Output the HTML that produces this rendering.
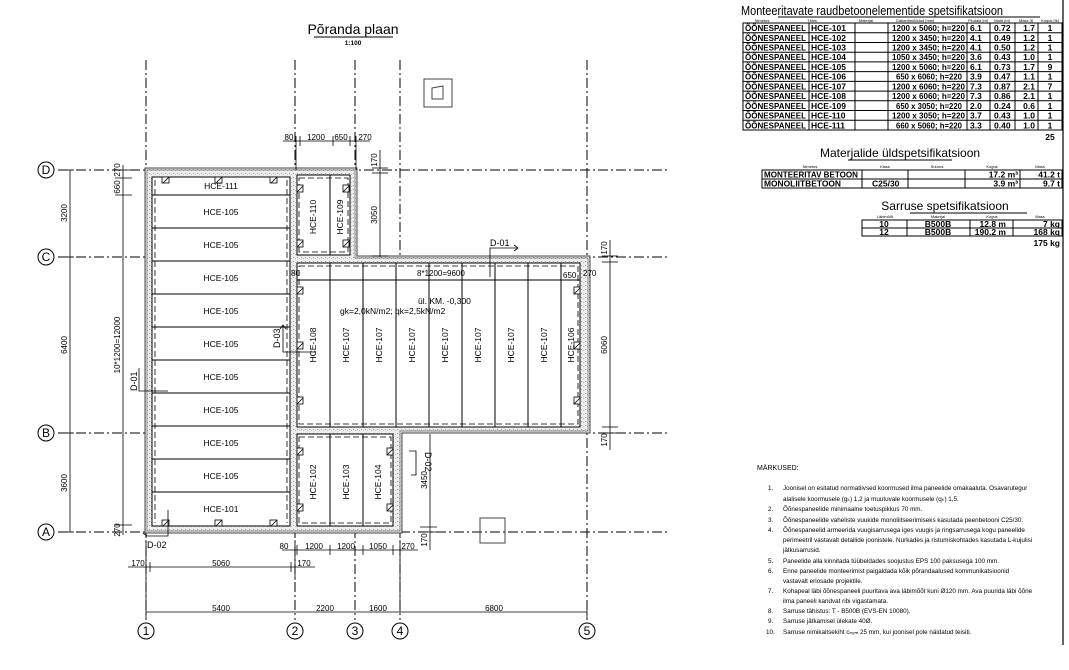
<!DOCTYPE html>
<html><head><meta charset="utf-8"><style>
html,body{margin:0;padding:0;background:#fff}
svg{display:block}
text{font-family:"Liberation Sans",sans-serif;fill:#000}
</style></head><body>
<svg width="1069" height="670" viewBox="0 0 1069 670" xmlns="http://www.w3.org/2000/svg">
<defs>
<pattern id="st" width="4" height="4" patternUnits="userSpaceOnUse">
<rect width="4" height="4" fill="#eee"/><rect x="1" y="1" width="1" height="1" fill="#999"/><rect x="3" y="2" width="1" height="1" fill="#bbb"/>
</pattern>
<g id="ah"><rect x="0" y="0" width="7" height="6" fill="#fff" stroke="#000" stroke-width="0.8"/><line x1="1" y1="6" x2="7" y2="0" stroke="#000" stroke-width="0.8"/></g>
<g id="av"><rect x="0" y="0" width="6" height="7" fill="#fff" stroke="#000" stroke-width="0.8"/><line x1="0" y1="7" x2="6" y2="1" stroke="#000" stroke-width="0.8"/></g>
</defs>

<text x="353" y="34" font-size="14" text-anchor="middle">Põranda plaan</text>
<line x1="314" y1="37" x2="393" y2="37" stroke="#000" stroke-width="1"/>
<text x="353" y="45" font-size="6.5" text-anchor="middle" font-weight="bold">1:100</text>

<g stroke="#000" stroke-width="1" stroke-dasharray="10,3,2,3" fill="none">
<line x1="146" y1="60" x2="146" y2="620"/>
<line x1="295" y1="60" x2="295" y2="620"/>
<line x1="355" y1="60" x2="355" y2="620"/>
<line x1="400" y1="60" x2="400" y2="620"/>
<line x1="587" y1="60" x2="587" y2="620"/>
<line x1="58" y1="170" x2="668" y2="170"/>
<line x1="58" y1="257" x2="668" y2="257"/>
<line x1="58" y1="433" x2="668" y2="433"/>
<line x1="58" y1="532" x2="668" y2="532"/>
</g>

<g fill="#fff" stroke="#000" stroke-width="1">
<circle cx="46" cy="170" r="8"/><circle cx="46" cy="257" r="8"/><circle cx="46" cy="433" r="8"/><circle cx="46" cy="532" r="8"/>
<circle cx="146" cy="631" r="8"/><circle cx="295" cy="631" r="8"/><circle cx="355" cy="631" r="8"/><circle cx="400" cy="631" r="8"/><circle cx="587" cy="631" r="8"/>
</g>
<g font-size="12" text-anchor="middle">
<text x="46" y="174">D</text><text x="46" y="261">C</text><text x="46" y="437">B</text><text x="46" y="536">A</text>
<text x="146" y="635">1</text><text x="295" y="635">2</text><text x="355" y="635">3</text><text x="400" y="635">4</text><text x="587" y="635">5</text>
</g>

<polygon points="145,168 357,168 357,256 590,256 590,433 402,433 402,533 145,533" fill="url(#st)" stroke="#444" stroke-width="1"/>
<polygon points="147,170 355,170 355,258 588,258 588,431 400,431 400,531 147,531" fill="none" stroke="#666" stroke-width="0.7"/>

<g fill="#fff" stroke="#000" stroke-width="1">
<rect x="152" y="177" width="138" height="349"/>
<rect x="297" y="175" width="53" height="80"/>
<rect x="297" y="263" width="283" height="164"/>
<rect x="297" y="434" width="96" height="92"/>
</g>
<g stroke="#000" stroke-width="1">
<line x1="152" y1="195" x2="290" y2="195"/><line x1="152" y1="228" x2="290" y2="228"/><line x1="152" y1="261" x2="290" y2="261"/>
<line x1="152" y1="294" x2="290" y2="294"/><line x1="152" y1="327" x2="290" y2="327"/><line x1="152" y1="360" x2="290" y2="360"/>
<line x1="152" y1="393" x2="290" y2="393"/><line x1="152" y1="426" x2="290" y2="426"/><line x1="152" y1="459" x2="290" y2="459"/>
<line x1="152" y1="492" x2="290" y2="492"/>
<line x1="330" y1="175" x2="330" y2="255"/>
<line x1="330" y1="263" x2="330" y2="427"/><line x1="363" y1="263" x2="363" y2="427"/><line x1="396" y1="263" x2="396" y2="427"/>
<line x1="429" y1="263" x2="429" y2="427"/><line x1="462" y1="263" x2="462" y2="427"/><line x1="495" y1="263" x2="495" y2="427"/>
<line x1="528" y1="263" x2="528" y2="427"/><line x1="561" y1="263" x2="561" y2="427"/>
<line x1="330" y1="434" x2="330" y2="526"/><line x1="363" y1="434" x2="363" y2="526"/>
<line x1="297" y1="280" x2="580" y2="280"/>
</g>
<g stroke="#000" stroke-width="0.8" stroke-dasharray="6,3" fill="none">
<line x1="155" y1="180" x2="155" y2="523"/><line x1="287" y1="180" x2="287" y2="523"/>
<rect x="299" y="178" width="49" height="74"/>
<rect x="299" y="266" width="279" height="158"/>
<rect x="299" y="437" width="92" height="86"/>
</g>

<use href="#ah" x="162" y="177"/><use href="#ah" x="215" y="177"/><use href="#ah" x="270" y="177"/>
<use href="#ah" x="162" y="520"/><use href="#ah" x="215" y="520"/><use href="#ah" x="270" y="520"/>
<use href="#av" x="297" y="185"/><use href="#av" x="343" y="185"/><use href="#av" x="297" y="240"/><use href="#av" x="343" y="240"/>
<use href="#av" x="297" y="287"/><use href="#av" x="297" y="342"/><use href="#av" x="297" y="397"/>
<use href="#av" x="574" y="287"/><use href="#av" x="574" y="342"/><use href="#av" x="574" y="397"/>
<use href="#av" x="297" y="448"/><use href="#av" x="297" y="504"/><use href="#av" x="387" y="448"/><use href="#av" x="387" y="504"/>

<g font-size="8.5" text-anchor="middle">
<text x="221" y="189">HCE-111</text>
<text x="221" y="215">HCE-105</text><text x="221" y="248">HCE-105</text><text x="221" y="281">HCE-105</text>
<text x="221" y="314">HCE-105</text><text x="221" y="347">HCE-105</text><text x="221" y="380">HCE-105</text>
<text x="221" y="413">HCE-105</text><text x="221" y="446">HCE-105</text><text x="221" y="479">HCE-105</text>
<text x="221" y="512">HCE-101</text>
</g>
<g font-size="8.5" text-anchor="middle">
<text transform="translate(316,217) rotate(-90)">HCE-110</text>
<text transform="translate(343,217) rotate(-90)">HCE-109</text>
<text transform="translate(316,345) rotate(-90)">HCE-108</text>
<text transform="translate(349,345) rotate(-90)">HCE-107</text>
<text transform="translate(382,345) rotate(-90)">HCE-107</text>
<text transform="translate(415,345) rotate(-90)">HCE-107</text>
<text transform="translate(448,345) rotate(-90)">HCE-107</text>
<text transform="translate(481,345) rotate(-90)">HCE-107</text>
<text transform="translate(514,345) rotate(-90)">HCE-107</text>
<text transform="translate(547,345) rotate(-90)">HCE-107</text>
<text transform="translate(574,345) rotate(-90)">HCE-106</text>
<text transform="translate(316,482) rotate(-90)">HCE-102</text>
<text transform="translate(349,482) rotate(-90)">HCE-103</text>
<text transform="translate(381,482) rotate(-90)">HCE-104</text>
</g>
<text x="418" y="304" font-size="8.5">ül. KM. -0,300</text>
<text x="340" y="314" font-size="8.5">gk=2,0kN/m2; qk=2,5kN/m2</text>
<text x="417" y="276" font-size="8">8*1200=9600</text>
<text x="291" y="276" font-size="8">80</text>
<text x="563" y="278" font-size="8">650</text>
<text x="583" y="276" font-size="8">270</text>

<g stroke="#000" stroke-width="0.8" fill="none">
<polyline points="490,277 490,248 517,248"/><polyline points="514,245 518,248 514,251"/>
<polyline points="316,352 283,352 283,326"/><polyline points="280,329 283,325 286,329"/>
<polyline points="168,391 139,391 139,368"/>
<polyline points="409,451 416,451 416,475 411,475"/>
<polyline points="168,510 168,536 147,536 143,533"/>
</g>
<text x="490" y="246" font-size="9">D-01</text>
<text transform="translate(280,348) rotate(-90)" font-size="9">D-03</text>
<text transform="translate(137,391) rotate(-90)" font-size="9">D-01</text>
<text transform="translate(425,452) rotate(90)" font-size="9">D-02</text>
<text x="147" y="548" font-size="9">D-02</text>

<g stroke="#000" stroke-width="0.8" fill="none">
<line x1="283" y1="141" x2="370" y2="141"/>
<line x1="296" y1="136" x2="296" y2="170"/><line x1="300" y1="136" x2="300" y2="146"/><line x1="333" y1="136" x2="333" y2="146"/><line x1="350" y1="136" x2="350" y2="146"/><line x1="356" y1="136" x2="356" y2="170"/>
<line x1="380" y1="150" x2="380" y2="257"/><line x1="372" y1="168" x2="388" y2="168"/><line x1="372" y1="173" x2="388" y2="173"/><line x1="372" y1="256" x2="388" y2="256"/>
<line x1="70" y1="170" x2="70" y2="532"/><line x1="66" y1="170" x2="74" y2="170"/><line x1="66" y1="257" x2="74" y2="257"/><line x1="66" y1="433" x2="74" y2="433"/><line x1="66" y1="532" x2="74" y2="532"/>
<line x1="123" y1="165" x2="123" y2="535"/><line x1="115" y1="170" x2="132" y2="170"/><line x1="115" y1="178" x2="132" y2="178"/><line x1="115" y1="195" x2="132" y2="195"/><line x1="115" y1="525" x2="132" y2="525"/>
<line x1="610" y1="240" x2="610" y2="450"/><line x1="602" y1="256" x2="618" y2="256"/><line x1="602" y1="262" x2="618" y2="262"/><line x1="602" y1="427" x2="618" y2="427"/><line x1="602" y1="433" x2="618" y2="433"/>
<line x1="430" y1="434" x2="430" y2="550"/><line x1="420" y1="527" x2="437" y2="527"/><line x1="420" y1="532" x2="437" y2="532"/>
<line x1="282" y1="550" x2="418" y2="550"/>
<line x1="295" y1="540" x2="295" y2="580"/><line x1="297" y1="545" x2="297" y2="555"/><line x1="330" y1="545" x2="330" y2="555"/><line x1="363" y1="545" x2="363" y2="555"/><line x1="393" y1="545" x2="393" y2="555"/><line x1="400" y1="540" x2="400" y2="612"/>
<line x1="128" y1="567" x2="315" y2="567"/><line x1="146" y1="540" x2="146" y2="618"/><line x1="150" y1="562" x2="150" y2="572"/><line x1="291" y1="562" x2="291" y2="572"/>
<line x1="146" y1="612" x2="587" y2="612"/><line x1="587" y1="600" x2="587" y2="618"/>
</g>
<g font-size="8" text-anchor="middle">
<text x="289" y="140">80</text><text x="316" y="140">1200</text><text x="341" y="140">650</text><text x="365" y="140">270</text>
<text x="284" y="549">80</text><text x="314" y="549">1200</text><text x="346" y="549">1200</text><text x="378" y="549">1050</text><text x="408" y="549">270</text>
<text x="138" y="566">170</text><text x="221" y="566">5060</text><text x="304" y="566">170</text>
<text x="221" y="611">5400</text><text x="325" y="611">2200</text><text x="378" y="611">1600</text><text x="494" y="611">6800</text>
</g>
<g font-size="8" text-anchor="middle">
<text transform="translate(67,213) rotate(-90)">3200</text>
<text transform="translate(67,345) rotate(-90)">6400</text>
<text transform="translate(67,483) rotate(-90)">3600</text>
<text transform="translate(120,345) rotate(-90)">10*1200=12000</text>
<text transform="translate(120,170) rotate(-90)">270</text>
<text transform="translate(120,187) rotate(-90)">660</text>
<text transform="translate(120,530) rotate(-90)">270</text>
<text transform="translate(377,215) rotate(-90)">3050</text>
<text transform="translate(377,160) rotate(-90)">170</text>
<text transform="translate(607,248) rotate(-90)">170</text>
<text transform="translate(607,345) rotate(-90)">6060</text>
<text transform="translate(607,440) rotate(-90)">170</text>
<text transform="translate(427,480) rotate(-90)">3450</text>
<text transform="translate(427,540) rotate(-90)">170</text>
</g>

<rect x="424" y="79" width="28" height="28" fill="none" stroke="#444"/>
<polygon points="432,88 443,86 443,99 432,99" fill="none" stroke="#444"/>
<rect x="480" y="518" width="25" height="25" fill="none" stroke="#444"/>

<line x1="1063" y1="0" x2="1063" y2="645" stroke="#000" stroke-width="1.2"/>

<!-- table 1 -->
<text x="872" y="15" font-size="13" text-anchor="middle" textLength="262" lengthAdjust="spacingAndGlyphs">Monteeritavate raudbetoonelementide spetsifikatsioon</text>
<line x1="778" y1="17" x2="1040" y2="17" stroke="#000"/>
<g font-size="4" text-anchor="middle">
<text x="762" y="22">Nimetus</text><text x="812" y="22">Tähis</text><text x="866" y="22">Materjal</text><text x="915" y="22">Gabariitmõõdud [mm]</text>
<text x="978" y="22">Pindala [m]</text><text x="1002" y="22">Maht [m]</text><text x="1026" y="22">Mass [t]</text><text x="1050" y="22">Kogus [tk]</text>
</g>
<g stroke="#000" stroke-width="1" fill="none">
<rect x="743" y="23" width="319" height="107"/>
<line x1="809" y1="23" x2="809" y2="130"/><line x1="855" y1="23" x2="855" y2="130"/><line x1="888" y1="23" x2="888" y2="130"/>
<line x1="967" y1="23" x2="967" y2="130"/><line x1="990" y1="23" x2="990" y2="130"/><line x1="1015" y1="23" x2="1015" y2="130"/><line x1="1038" y1="23" x2="1038" y2="130"/>
<line x1="743" y1="32.7" x2="1062" y2="32.7"/><line x1="743" y1="42.5" x2="1062" y2="42.5"/><line x1="743" y1="52.2" x2="1062" y2="52.2"/>
<line x1="743" y1="61.9" x2="1062" y2="61.9"/><line x1="743" y1="71.6" x2="1062" y2="71.6"/><line x1="743" y1="81.4" x2="1062" y2="81.4"/>
<line x1="743" y1="91.1" x2="1062" y2="91.1"/><line x1="743" y1="100.8" x2="1062" y2="100.8"/><line x1="743" y1="110.5" x2="1062" y2="110.5"/>
<line x1="743" y1="120.3" x2="1062" y2="120.3"/>
</g>
<g font-size="8.5" font-weight="bold">
<g textLength="61" lengthAdjust="spacingAndGlyphs">
<text x="745" y="31" textLength="61" lengthAdjust="spacingAndGlyphs">ÕÕNESPANEEL</text><text x="745" y="41" textLength="61" lengthAdjust="spacingAndGlyphs">ÕÕNESPANEEL</text><text x="745" y="50.5" textLength="61" lengthAdjust="spacingAndGlyphs">ÕÕNESPANEEL</text><text x="745" y="60" textLength="61" lengthAdjust="spacingAndGlyphs">ÕÕNESPANEEL</text>
<text x="745" y="70" textLength="61" lengthAdjust="spacingAndGlyphs">ÕÕNESPANEEL</text><text x="745" y="79.5" textLength="61" lengthAdjust="spacingAndGlyphs">ÕÕNESPANEEL</text><text x="745" y="89.5" textLength="61" lengthAdjust="spacingAndGlyphs">ÕÕNESPANEEL</text><text x="745" y="99" textLength="61" lengthAdjust="spacingAndGlyphs">ÕÕNESPANEEL</text>
<text x="745" y="109" textLength="61" lengthAdjust="spacingAndGlyphs">ÕÕNESPANEEL</text><text x="745" y="118.5" textLength="61" lengthAdjust="spacingAndGlyphs">ÕÕNESPANEEL</text><text x="745" y="128.5" textLength="61" lengthAdjust="spacingAndGlyphs">ÕÕNESPANEEL</text>
</g>
<text x="811" y="31">HCE-101</text><text x="811" y="41">HCE-102</text><text x="811" y="50.5">HCE-103</text><text x="811" y="60">HCE-104</text>
<text x="811" y="70">HCE-105</text><text x="811" y="79.5">HCE-106</text><text x="811" y="89.5">HCE-107</text><text x="811" y="99">HCE-108</text>
<text x="811" y="109">HCE-109</text><text x="811" y="118.5">HCE-110</text><text x="811" y="128.5">HCE-111</text>
</g>
<g font-size="8" font-weight="bold" text-anchor="end">
<text x="965" y="31" textLength="73" lengthAdjust="spacingAndGlyphs">1200 x 5060; h=220</text><text x="965" y="41" textLength="73" lengthAdjust="spacingAndGlyphs">1200 x 3450; h=220</text><text x="965" y="50.5" textLength="73" lengthAdjust="spacingAndGlyphs">1200 x 3450; h=220</text><text x="965" y="60" textLength="73" lengthAdjust="spacingAndGlyphs">1050 x 3450; h=220</text>
<text x="965" y="70" textLength="73" lengthAdjust="spacingAndGlyphs">1200 x 5060; h=220</text><text x="962" y="79.5" textLength="66" lengthAdjust="spacingAndGlyphs">650 x 6060; h=220</text><text x="965" y="89.5" textLength="73" lengthAdjust="spacingAndGlyphs">1200 x 6060; h=220</text><text x="965" y="99" textLength="73" lengthAdjust="spacingAndGlyphs">1200 x 6060; h=220</text>
<text x="962" y="109" textLength="66" lengthAdjust="spacingAndGlyphs">650 x 3050; h=220</text><text x="965" y="118.5" textLength="73" lengthAdjust="spacingAndGlyphs">1200 x 3050; h=220</text><text x="962" y="128.5" textLength="66" lengthAdjust="spacingAndGlyphs">660 x 5060; h=220</text>
</g>
<g font-size="8.5" font-weight="bold">
<text x="970" y="31">6.1</text><text x="970" y="41">4.1</text><text x="970" y="50.5">4.1</text><text x="970" y="60">3.6</text><text x="970" y="70">6.1</text><text x="970" y="79.5">3.9</text>
<text x="970" y="89.5">7.3</text><text x="970" y="99">7.3</text><text x="970" y="109">2.0</text><text x="970" y="118.5">3.7</text><text x="970" y="128.5">3.3</text>
<text x="994" y="31">0.72</text><text x="994" y="41">0.49</text><text x="994" y="50.5">0.50</text><text x="994" y="60">0.43</text><text x="994" y="70">0.73</text><text x="994" y="79.5">0.47</text>
<text x="994" y="89.5">0.87</text><text x="994" y="99">0.86</text><text x="994" y="109">0.24</text><text x="994" y="118.5">0.43</text><text x="994" y="128.5">0.40</text>
</g>
<g font-size="8.5" font-weight="bold" text-anchor="end">
<text x="1035" y="31">1.7</text><text x="1035" y="41">1.2</text><text x="1035" y="50.5">1.2</text><text x="1035" y="60">1.0</text><text x="1035" y="70">1.7</text><text x="1035" y="79.5">1.1</text>
<text x="1035" y="89.5">2.1</text><text x="1035" y="99">2.1</text><text x="1035" y="109">0.6</text><text x="1035" y="118.5">1.0</text><text x="1035" y="128.5">1.0</text>
</g>
<g font-size="8.5" font-weight="bold" text-anchor="middle">
<text x="1050" y="31">1</text><text x="1050" y="41">1</text><text x="1050" y="50.5">1</text><text x="1050" y="60">1</text><text x="1050" y="70">9</text><text x="1050" y="79.5">1</text>
<text x="1050" y="89.5">7</text><text x="1050" y="99">1</text><text x="1050" y="109">1</text><text x="1050" y="118.5">1</text><text x="1050" y="128.5">1</text>
<text x="1050" y="140">25</text>
</g>

<!-- table 2 -->
<text x="900" y="157" font-size="12" text-anchor="middle">Materjalide üldspetsifikatsioon</text>
<line x1="848" y1="160" x2="952" y2="160" stroke="#000"/>
<g font-size="4" text-anchor="middle"><text x="810" y="168">Nimetus</text><text x="885" y="168">Klass</text><text x="937" y="168">Suurus</text><text x="992" y="168">Kogus</text><text x="1040" y="168">Mass</text></g>
<g stroke="#000" stroke-width="1" fill="none">
<rect x="762" y="170" width="300" height="18"/>
<line x1="762" y1="179" x2="1062" y2="179"/>
<line x1="862" y1="170" x2="862" y2="188"/><line x1="908" y1="170" x2="908" y2="188"/><line x1="965" y1="170" x2="965" y2="188"/><line x1="1020" y1="170" x2="1020" y2="188"/>
</g>
<g font-size="8.5" font-weight="bold">
<text x="764" y="177.5" textLength="94" lengthAdjust="spacingAndGlyphs">MONTEERITAV BETOON</text><text x="764" y="186.5" textLength="77" lengthAdjust="spacingAndGlyphs">MONOLIITBETOON</text>
<text x="872" y="186.5">C25/30</text>
<text x="1018" y="177.5" text-anchor="end">17.2 m³</text><text x="1018" y="186.5" text-anchor="end">3.9 m³</text>
<text x="1060" y="177.5" text-anchor="end">41.2 t</text><text x="1060" y="186.5" text-anchor="end">9.7 t</text>
</g>

<!-- table 3 -->
<text x="945" y="210" font-size="12" text-anchor="middle">Sarruse spetsifikatsioon</text>
<line x1="910" y1="213" x2="1027" y2="213" stroke="#000"/>
<g font-size="4" text-anchor="middle"><text x="885" y="218">Läbimõõt</text><text x="938" y="218">Materjal</text><text x="992" y="218">Kogus</text><text x="1040" y="218">Mass</text></g>
<g stroke="#000" stroke-width="1" fill="none">
<rect x="862" y="220" width="200" height="16"/>
<line x1="862" y1="228" x2="1062" y2="228"/>
<line x1="907" y1="220" x2="907" y2="236"/><line x1="970" y1="220" x2="970" y2="236"/><line x1="1013" y1="220" x2="1013" y2="236"/>
</g>
<g font-size="8.5" font-weight="bold">
<text x="884" y="227" text-anchor="middle">10</text><text x="884" y="235" text-anchor="middle">12</text>
<text x="938" y="227" text-anchor="middle">B500B</text><text x="938" y="235" text-anchor="middle">B500B</text>
<text x="1006" y="227" text-anchor="end">12.8  m</text><text x="1006" y="235" text-anchor="end">190.2  m</text>
<text x="1060" y="227" text-anchor="end">7 kg</text><text x="1060" y="235" text-anchor="end">168 kg</text>
<text x="1060" y="246" text-anchor="end">175 kg</text>
</g>

<!-- notes -->
<g font-size="6.3">
<text x="757" y="470" font-size="7">MÄRKUSED:</text>
<text x="768" y="490">1.</text><text x="783" y="490">Joonisel on esitatud normatiivsed koormused ilma paneelide omakaaluta. Osavarutegur</text>
<text x="783" y="501">alalisele koormusele (gₖ) 1,2 ja muutuvale koormusele (qₖ) 1,5.</text>
<text x="768" y="511">2.</text><text x="783" y="511">Õõnespaneelide minimaalne toetuspikkus 70 mm.</text>
<text x="768" y="522">3.</text><text x="783" y="522">Õõnespaneelide vaheliste vuukide monoliitseerimiseks kasutada peenbetooni C25/30.</text>
<text x="768" y="532">4.</text><text x="783" y="532">Õõnespaneelid armeerida vuugisarrusega iges vuugis ja ringsarrusega kogu paneelide</text>
<text x="783" y="542">perimeetril vastavalt detailide joonistele. Nurkades ja ristumiskohtades kasutada L-kujulisi</text>
<text x="783" y="552">jätkusarrusid.</text>
<text x="768" y="563">5.</text><text x="783" y="563">Paneelide alla kinnitada tüübeldades soojustus EPS 100 paksusega 100 mm.</text>
<text x="768" y="573">6.</text><text x="783" y="573">Enne paneelide monteerimist paigaldada kõik põrandaalused kommunikatsioonid</text>
<text x="783" y="583">vastavalt eriosade projektile.</text>
<text x="768" y="593">7.</text><text x="783" y="593">Kohapeal läbi õõnespaneeli puuritava ava läbimõõt kuni Ø120 mm. Ava puurida läbi õõne</text>
<text x="783" y="603">ilma paneeli kandvat ribi vigastamata.</text>
<text x="768" y="613">8.</text><text x="783" y="613">Sarruse tähistus: T - B500B (EVS-EN 10080).</text>
<text x="768" y="623">9.</text><text x="783" y="623">Sarruse jätkamisel ülekate 40Ø.</text>
<text x="766" y="634">10.</text><text x="783" y="634">Sarruse nimikaitsekiht cₙₒₘ 25 mm, kui joonisel pole näidatud teisiti.</text>
</g>
</svg>
</body></html>
